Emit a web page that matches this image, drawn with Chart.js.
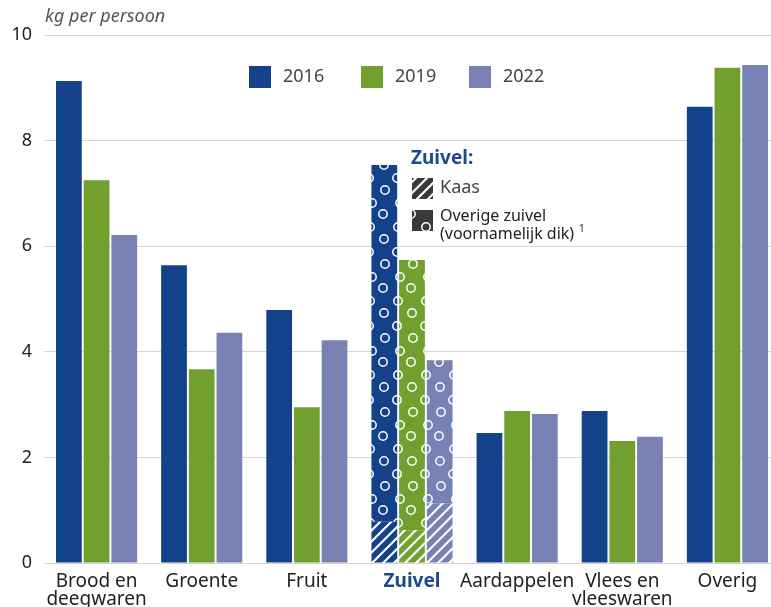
<!DOCTYPE html>
<html>
<head>
<meta charset="utf-8">
<script src="https://cdn.jsdelivr.net/npm/chart.js@4"></script>
<style>
  html, body { margin: 0; padding: 0; background: #fff; overflow: hidden; }
  #wrap { width: 790px; height: 607px; }
</style>
</head>
<body>
<div id="wrap"><canvas id="chart"></canvas></div>
<script>
// Voedselverspilling per productgroep, kg per persoon
const categories = [['Brood en', 'deegwaren'], 'Groente', 'Fruit', 'Zuivel', 'Aardappelen', ['Vlees en', 'vleeswaren'], 'Overig'];
const years = ['2016', '2019', '2022'];
const values2016 = [9.13, 5.64, 4.79, 7.54, 2.46, 2.88, 8.64];
const values2019 = [7.25, 3.67, 2.95, 5.74, 2.88, 2.31, 9.38];
const values2022 = [6.21, 4.36, 4.22, 3.84, 2.82, 2.39, 9.43];
// Zuivel opgesplitst: kaas (onderin), rest is overige zuivel
const kaas = [0.78, 0.62, 1.13];
const yTicks = [0, 2, 4, 6, 8, 10];

const colors = ['#13428a', '#71a02f', '#7881b3'];
const ZUIVEL = 3;
const FONT = "'Noto Sans', sans-serif";

// Patronen voor de zuivelbalken
function hatch(color) {
    const c = document.createElement('canvas');
    c.width = 11; c.height = 11;
    const g = c.getContext('2d');
    g.fillStyle = color; g.fillRect(0, 0, 11, 11);
    g.strokeStyle = '#fff'; g.lineWidth = 2.2;
    g.beginPath();
    g.moveTo(-2, 13); g.lineTo(13, -2);
    g.moveTo(-8, 8); g.lineTo(8, -8);
    g.moveTo(3, 19); g.lineTo(19, 3);
    g.stroke();
    return g.createPattern(c, 'repeat');
}

function dots(color) {
    const c = document.createElement('canvas');
    c.width = 28; c.height = 74;
    const g = c.getContext('2d');
    g.fillStyle = color; g.fillRect(0, 0, 28, 74);
    g.strokeStyle = '#fff'; g.lineWidth = 1.5;
    const pts = [[6, 5], [20, 17], [5, 30], [21, 42], [8, 55], [19, 66]];
    pts.forEach(p => {
        g.beginPath(); g.arc(p[0], p[1], 4.2, 0, Math.PI * 2); g.stroke();
    });
    return g.createPattern(c, 'repeat');
}

const series = [values2016, values2019, values2022];
const hatchFills = colors.map(hatch);
const dotFills = colors.map(dots);

const datasets = [];
series.forEach((vals, i) => {
    datasets.push({
        label: years[i],
        stack: years[i],
        data: vals.map((v, j) => j === ZUIVEL ? kaas[i] : v),
        backgroundColor: ctx => ctx.dataIndex === ZUIVEL ? hatchFills[i] : colors[i]
    });
});
series.forEach((vals, i) => {
    datasets.push({
        label: years[i] + ' overige zuivel',
        stack: years[i],
        data: vals.map((v, j) => j === ZUIVEL ? +(v - kaas[i]).toFixed(2) : null),
        backgroundColor: dotFills[i]
    });
});

// Legenda en eenheid op het canvas tekenen
const extras = {
    id: 'extras',
    afterDraw(chart) {
        const g = chart.ctx;
        g.save();
        g.textBaseline = 'middle';
        g.fillStyle = '#555';
        g.font = 'italic 18px ' + FONT;
        g.fillText('kg per persoon', 45, 17);

        const lx = [249, 361, 469];
        years.forEach((y, i) => {
            g.fillStyle = colors[i];
            g.fillRect(lx[i], 66, 22, 22);
            g.fillStyle = '#444';
            g.font = '18px ' + FONT;
            g.fillText(y, lx[i] + 34, 77);
        });

        g.fillStyle = '#1d4a8c';
        g.font = 'bold 19px ' + FONT;
        g.fillText('Zuivel:', 411, 159);
        g.fillStyle = hatch('#3a3a3a');
        g.fillRect(412, 178, 21, 21);
        g.fillStyle = dots('#3a3a3a');
        g.fillRect(412, 210, 21, 21);
        g.fillStyle = '#444';
        g.font = '18px ' + FONT;
        g.fillText('Kaas', 440, 188);
        g.fillStyle = '#222';
        g.font = '16px ' + FONT;
        g.fillText('Overige zuivel', 440, 216);
        g.fillText('(voornamelijk dik)', 440, 234);
        g.font = '10px ' + FONT;
        g.fillText('1', 579, 229);
        g.restore();
    }
};

new Chart(document.getElementById('chart'), {
    type: 'bar',
    data: { labels: categories, datasets },
    plugins: [extras],
    options: {
        responsive: true,
        maintainAspectRatio: false,
        animation: false,
        layout: { padding: { top: 35, right: 10, left: 0, bottom: 0 } },
        datasets: { bar: { categoryPercentage: 0.79, barPercentage: 0.93 } },
        plugins: { legend: { display: false }, tooltip: { enabled: false } },
        scales: {
            x: {
                stacked: true,
                grid: { display: false },
                border: { display: false },
                afterFit: s => { s.height = 44; },
                ticks: {
                    padding: 2,
                    maxRotation: 0,
                    autoSkip: false,
                    color: ctx => ctx.index === ZUIVEL ? '#1d4a8c' : '#222',
                    font: ctx => ({ family: FONT, size: 19, lineHeight: 0.95, weight: ctx.index === ZUIVEL ? 'bold' : 'normal' })
                }
            },
            y: {
                stacked: true,
                min: 0,
                max: 10,
                afterFit: s => { s.width = 44; },
                afterBuildTicks: s => { s.ticks = yTicks.map(v => ({ value: v })); },
                border: { display: false },
                grid: { color: '#d6d6d6', drawTicks: false },
                ticks: { padding: 12, color: '#222', font: { family: FONT, size: 18 } }
            }
        }
    }
});
</script>
</body>
</html>
